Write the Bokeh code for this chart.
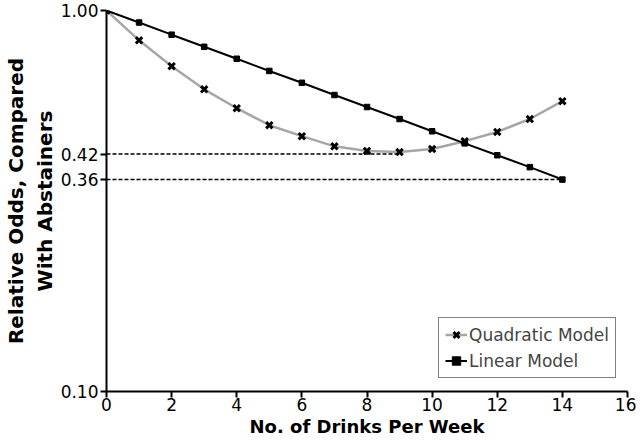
from bokeh.plotting import figure
from bokeh.models import FixedTicker, PrintfTickFormatter, Legend, LegendItem, ColumnDataSource
from bokeh.embed import file_html
from bokeh.resources import INLINE

drinks = list(range(0, 15))
quadratic = [1.00, 0.835, 0.714, 0.621, 0.554, 0.500, 0.468, 0.440, 0.428, 0.425,
             0.433, 0.454, 0.480, 0.519, 0.578]
linear = [1.00, 0.930, 0.864, 0.803, 0.747, 0.694, 0.646, 0.600, 0.558, 0.519,
          0.482, 0.448, 0.417, 0.388, 0.36]
ref_levels = [0.42, 0.36]
ref_ends = [9, 14]
y_ticks = [0.10, 0.36, 0.42, 1.00]
x_ticks = [0, 2, 4, 6, 8, 10, 12, 14, 16]

FONT = "DejaVu Sans"

p = figure(width=636, height=442, y_axis_type="log", x_range=(0, 16), y_range=(0.1, 1.0),
           output_backend="svg", toolbar_location=None,
           min_border_left=106, min_border_top=10, min_border_right=9, min_border_bottom=51)
p.outline_line_color = None
p.grid.visible = False
p.background_fill_color = "white"

# reference dashed lines
for lvl, end in zip(ref_levels, ref_ends):
    p.line([0, end], [lvl, lvl], line_color="black", line_width=1.5, line_dash="4 2")

src = ColumnDataSource(dict(x=drinks, q=quadratic, l=linear))
ql = p.line("x", "q", source=src, line_color="#a6a6a6", line_width=2.5)
qs = p.scatter("x", "q", source=src, marker="x", size=9, line_color="black", line_width=3)
ll = p.line("x", "l", source=src, line_color="black", line_width=2)
ls = p.scatter("x", "l", source=src, marker="square", size=5.5, fill_color="black", line_color="black")

legend = Legend(items=[LegendItem(label="Quadratic Model", renderers=[ql, qs]),
                       LegendItem(label="Linear Model", renderers=[ll, ls])],
                location=(332, 13), border_line_color="black", border_line_width=1.5,
                label_text_font=FONT, label_text_font_size="17px", glyph_width=22,
                glyph_height=21, label_height=21, label_standoff=2, padding=6, spacing=5,
                margin=0, background_fill_alpha=1)
p.add_layout(legend)

p.xaxis.ticker = FixedTicker(ticks=x_ticks)
p.yaxis.ticker = FixedTicker(ticks=y_ticks)
p.yaxis.formatter = PrintfTickFormatter(format="%.2f")
for ax in (p.xaxis, p.yaxis):
    ax.axis_line_width = 2
    ax.axis_line_color = "black"
    ax.major_tick_line_width = 2
    ax.major_tick_line_color = "black"
    ax.major_tick_out = 6
    ax.major_tick_in = 0
    ax.minor_tick_line_color = None
    ax.major_label_text_font = FONT
    ax.major_label_text_font_size = "17px"
    ax.major_label_text_color = "black"
    ax.axis_label_text_font = FONT
    ax.axis_label_text_font_style = "bold"
    ax.axis_label_text_color = "black"

p.xaxis.axis_label_text_font_size = "18px"
p.yaxis.axis_label_text_font_size = "20px"
p.xaxis.axis_label = "No. of Drinks Per Week"
p.yaxis.axis_label = "Relative Odds, Compared\nWith Abstainers"
p.xaxis.major_label_standoff = 0
p.yaxis.major_label_standoff = 2
p.xaxis.axis_label_standoff = 2
p.yaxis.axis_label_standoff = 1

open("out.html", "w").write(file_html(p, INLINE))
